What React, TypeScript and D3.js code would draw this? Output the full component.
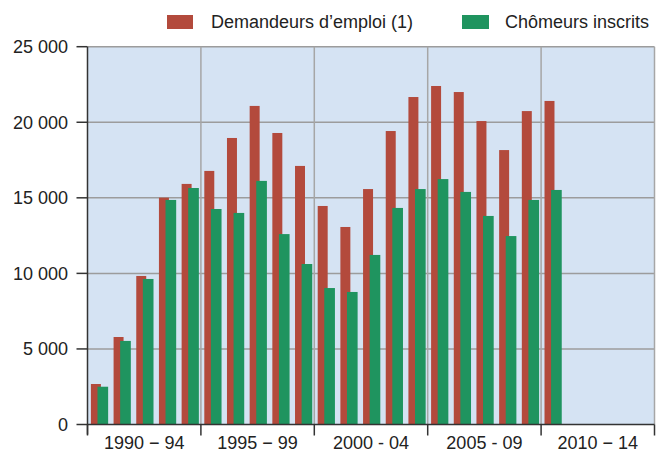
import * as d3 from "d3";

const years = d3.range(1990, 2015);
const groupLabels = ["1990 − 94", "1995 − 99", "2000 - 04", "2005 - 09", "2010 − 14"];
const demandeurs = [
  2680, 5790, 9830, 15010, 15920, 16780, 18960, 21080, 19290, 17110, 14460,
  13070, 15580, 19420, 21670, 22400, 22000, 20080, 18160, 20740, 21410,
];
const chomeurs = [
  2500, 5530, 9630, 14860, 15650, 14260, 14000, 16120, 12600, 10620, 9030,
  8770, 11220, 14330, 15580, 16240, 15390, 13800, 12470, 14860, 15520,
];
const yTicks = [0, 5000, 10000, 15000, 20000, 25000];

const W = 656;
const H = 453;
const left = 87.5;
const right = 654.5;
const top = 46.7;
const bottom = 424.5;
const RED = "#B34A3C";
const GREEN = "#1F945F";
const FONT = "'Liberation Sans', Arial, sans-serif";

const fmt = (v: number) => d3.format(",")(v).replace(/,/g, " ");

export default function App() {
  const x = d3.scaleBand<number>().domain(years).range([left, right]).padding(0);
  const y = d3.scaleLinear().domain([0, 25000]).range([bottom, top]);
  const bw = x.bandwidth();
  const groupEdges = [1990, 1995, 2000, 2005, 2010].map((yr) => x(yr)!).concat([right]);

  return (
    <div style={{ position: "absolute", left: 0, top: 0 }}>
      <svg width={W} height={H} style={{ display: "block", fontFamily: FONT }}>
        <rect x={left} y={top} width={right - left} height={bottom - top} fill="#D5E3F3" />

        {/* horizontal grid */}
        {yTicks.slice(1).map((t) => (
          <line key={t} x1={left} x2={right} y1={y(t)} y2={y(t)} stroke="#9C9C9C" strokeWidth={1.5} />
        ))}
        {/* vertical grid */}
        {groupEdges.slice(1).map((gx, i) => (
          <line key={i} x1={gx} x2={gx} y1={top} y2={bottom} stroke="#A6A6A6" strokeWidth={1.5} />
        ))}

        {demandeurs.map((v, i) => (
          <rect
            key={"r" + i}
            x={x(years[i])! + bw * 0.15}
            y={y(v)}
            width={bw * 0.44}
            height={bottom - y(v)}
            fill={RED}
          />
        ))}
        {chomeurs.map((v, i) => (
          <rect
            key={"g" + i}
            x={x(years[i])! + bw * 0.44}
            y={y(v)}
            width={bw * 0.47}
            height={bottom - y(v)}
            fill={GREEN}
          />
        ))}

        {/* axes */}
        <line x1={left} x2={left} y1={top} y2={bottom + 10} stroke="#333" strokeWidth={1.5} />
        <line x1={left} x2={right} y1={bottom} y2={bottom} stroke="#333" strokeWidth={1.5} />
        {yTicks.map((t) => (
          <g key={t}>
            <line x1={left - 11} x2={left} y1={y(t)} y2={y(t)} stroke="#333" strokeWidth={1.5} />
            <text x={68} y={y(t)} dy="0.36em" textAnchor="end" fontSize={18} fill="#222">
              {fmt(t)}
            </text>
          </g>
        ))}
        {groupEdges.map((gx, i) => (
          <line key={i} x1={gx} x2={gx} y1={bottom} y2={bottom + 11} stroke="#333" strokeWidth={1.5} />
        ))}
        {groupLabels.map((lab, i) => (
          <text
            key={lab}
            x={(groupEdges[i] + groupEdges[i + 1]) / 2}
            y={449}
            textAnchor="middle"
            fontSize={18}
            fill="#222"
          >
            {lab}
          </text>
        ))}

        {/* legend */}
        <rect x={167} y={15} width={26} height={14} fill={RED} />
        <text x={211} y={28} fontSize={18} fill="#222">
          Demandeurs d’emploi (1)
        </text>
        <rect x={462} y={15} width={27} height={14} fill={GREEN} />
        <text x={505} y={28} fontSize={18} fill="#222">
          Chômeurs inscrits
        </text>
      </svg>
    </div>
  );
}
